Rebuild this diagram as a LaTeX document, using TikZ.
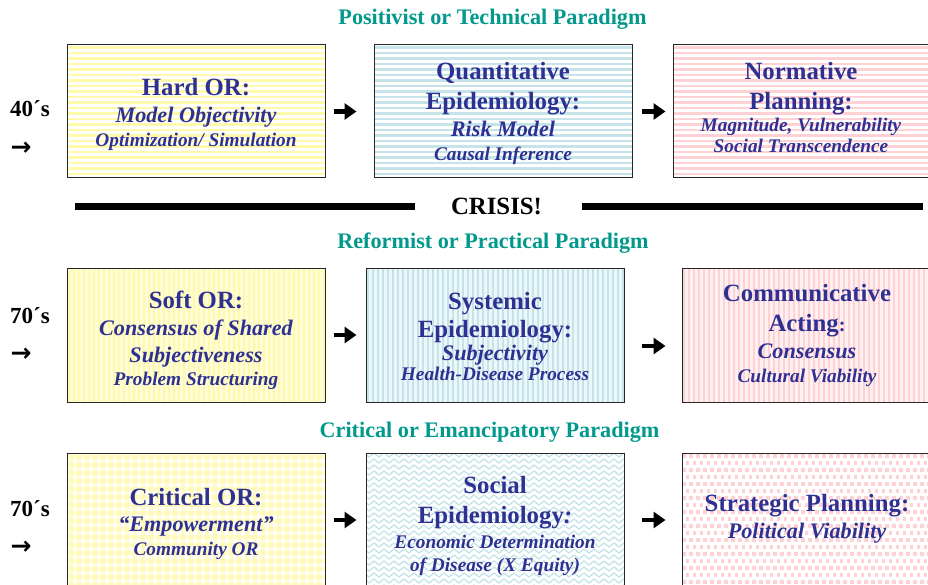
\documentclass[tikz,border=0pt]{standalone}
\usepackage{fontspec}
\setmainfont{Liberation Serif}
\newfontfamily\arrowfont{DejaVu Sans}
\usetikzlibrary{arrows.meta}
\definecolor{tealt}{RGB}{0,153,140}
\definecolor{bluet}{RGB}{46,49,146}
\definecolor{yelS}{RGB}{255,249,172}
\definecolor{yelB}{RGB}{255,253,215}
\definecolor{bluS}{RGB}{196,228,233}
\definecolor{bluB}{RGB}{236,247,249}
\definecolor{pnkS}{RGB}{255,208,212}
\definecolor{pnkB}{RGB}{255,240,241}
\tikzset{
  box/.style={rectangle, draw=black!85, line width=1pt, fill=white,
    minimum width=258pt, minimum height=134pt, inner sep=0pt},
  hpat/.style={path picture={
    \foreach \k in {0,...,25}{
      \pgfmathsetmacro\ya{-\k*5.5-1.5}\pgfmathsetmacro\yb{\ya-2.2}
      \fill[#1] ([yshift=\ya pt]path picture bounding box.north west) rectangle ([yshift=\yb pt]path picture bounding box.north east);}}},
  vpat/.style={path picture={
    \foreach \k in {0,...,55}{
      \pgfmathsetmacro\xa{\k*5+1}\pgfmathsetmacro\xb{\xa+2.4}
      \fill[#1] ([xshift=\xa pt]path picture bounding box.north west) rectangle ([xshift=\xb pt]path picture bounding box.south west);}}},
  gpat/.style={path picture={
    \foreach \k in {0,...,34}{
      \pgfmathsetmacro\xa{\k*8+2}\pgfmathsetmacro\xb{\xa+4}
      \fill[#1,opacity=.6] ([xshift=\xa pt]path picture bounding box.north west) rectangle ([xshift=\xb pt]path picture bounding box.south west);}
    \foreach \k in {0,...,18}{
      \pgfmathsetmacro\ya{-\k*8-2}\pgfmathsetmacro\yb{\ya-4}
      \fill[#1,opacity=.6] ([yshift=\ya pt]path picture bounding box.north west) rectangle ([yshift=\yb pt]path picture bounding box.north east);}}},
  zpat/.style={path picture={
    \foreach \k in {0,...,24}{
      \pgfmathsetmacro\ya{-\k*6}
      \draw[#1,line width=1.3pt] ([yshift=\ya pt,xshift=-2pt]path picture bounding box.north west)
        \foreach \i in {1,...,27}{ -- ++(5pt,-4pt) -- ++(5pt,4pt)};}}},
  dpat/.style={path picture={
    \foreach \j in {0,...,19}{\foreach \i in {0,...,37}{
      \pgfmathsetmacro\xa{\i*7+mod(\j,2)*3.5}\pgfmathsetmacro\ya{-\j*7-1}
      \fill[#1] ([xshift=\xa pt,yshift=\ya pt]path picture bounding box.north west) rectangle ++(3.6pt,-3.6pt);}}}},
  hd/.style={anchor=base, inner sep=0pt, text=bluet, font=\fontsize{24.8}{26}\selectfont\bfseries},
  it/.style={anchor=base, inner sep=0pt, text=bluet, font=\fontsize{22.2}{24}\selectfont\bfseries\itshape},
  sm/.style={anchor=base, inner sep=0pt, text=bluet, font=\fontsize{19.3}{21}\selectfont\bfseries\itshape},
  ttl/.style={anchor=base, inner sep=0pt, text=tealt, font=\fontsize{22.2}{24}\selectfont\bfseries},
  dec/.style={anchor=base west, inner sep=0pt, font=\fontsize{23}{25}\selectfont\bfseries},
  sarr/.style={anchor=center, inner sep=0pt, font=\arrowfont\fontsize{25}{27}\selectfont\bfseries},
  conn/.style={line width=4.5pt, -{Triangle[length=12pt,width=16pt]}},
  crisisline/.style={line width=6.7pt}
}
\begin{document}
\begin{tikzpicture}[x=1pt,y=-1pt]
\clip (0,0) rectangle (928,585);
\fill[white] (0,0) rectangle (928,585);

% titles
\node[ttl] (ti1) at (492.5,25) {Positivist or Technical Paradigm};
\node[ttl] (ti2) at (493,248) {Reformist or Practical Paradigm};
\node[ttl] (ti3) at (489.5,437) {Critical or Emancipatory Paradigm};

% side labels
\node[dec] (d1) at (10,117) {40´s};
\node[sarr] (d1a) at (21,149) {→};
\node[dec] (d2) at (10,323) {70´s};
\node[sarr] (d2a) at (21,355) {→};
\node[dec] (d3) at (10,516) {70´s};
\node[sarr] (d3a) at (21,548) {→};

% row 1
\node[box, minimum height=133pt, hpat=yelS] (b11) at (196,111.5) {};
\node[box, minimum height=133pt, hpat=bluS] (b12) at (503,111.5) {};
\node[box, minimum height=133pt, hpat=pnkS] (b13) at (802,111.5) {};
\node[hd] (t11a) at (196,95.7) {Hard OR:};
\node[it] (t11b) at (196,122.7) {Model Objectivity};
\node[sm] (t11c) at (196,146.7) {Optimization/ Simulation};
\node[hd] (t12a) at (503,80) {Quantitative};
\node[hd] (t12b) at (503,110) {Epidemiology:};
\node[it] (t12c) at (503,137) {Risk Model};
\node[sm] (t12d) at (503,161) {Causal Inference};
\node[hd] (t13a) at (801,80) {Normative};
\node[hd] (t13b) at (801,110) {Planning:};
\node[sm] (t13c) at (801,131.5) {Magnitude, Vulnerability};
\node[sm] (t13d) at (801,152.7) {Social Transcendence};
\draw[conn, shorten <=8pt, shorten >=17pt] (b11) -- (b12);
\draw[conn, shorten <=9pt, shorten >=7pt] (b12) -- (b13);

% crisis
\coordinate (cl1) at (75,206.7);
\coordinate (cl2) at (415,206.7);
\coordinate (cr1) at (582,206.7);
\coordinate (cr2) at (923,206.7);
\node[anchor=base, inner sep=0pt, font=\fontsize{24.8}{26}\selectfont\bfseries] (crisis) at (496.5,215) {CRISIS!};
\draw[crisisline] (cl1) -- (cl2);
\draw[crisisline] (cr1) -- (cr2);

% row 2
\node[box, fill=yelB, vpat=yelS] (b21) at (196,335) {};
\node[box, fill=bluB, vpat=bluS] (b22) at (495,335) {};
\node[box, fill=pnkB, vpat=pnkS] (b23) at (811,335) {};
\node[hd] (t21a) at (196,308.3) {Soft OR:};
\node[it] (t21b) at (196,335.7) {Consensus of Shared};
\node[it] (t21c) at (196,362.3) {Subjectiveness};
\node[sm] (t21d) at (196,385.7) {Problem Structuring};
\node[hd] (t22a) at (495,309) {Systemic};
\node[hd] (t22b) at (495,337.7) {Epidemiology:};
\node[it] (t22c) at (495,360) {Subjectivity};
\node[sm] (t22d) at (495,380.7) {Health-Disease Process};
\node[hd] (t23a) at (807,301.7) {Communicative};
\node[hd] (t23b) at (807,331.7) {Acting\fontsize{20}{22}\selectfont:};
\node[it] (t23c) at (807,358.3) {Consensus};
\node[sm] (t23d) at (807,382.7) {Cultural Viability};
\draw[conn, shorten <=8pt, shorten >=9pt] (b21) -- (b22);
\draw[conn, shorten <=17pt, shorten >=16pt] ([yshift=-11pt]b22.east) -- ([yshift=-11pt]b23.west);

% row 3
\node[box, gpat=yelS] (b31) at (196,520) {};
\node[box, fill=white, zpat=bluS] (b32) at (495,520) {};
\node[box, fill=white, dpat=pnkS] (b33) at (811,520) {};
\node[hd] (t31a) at (196,505) {Critical OR:};
\node[it] (t31b) at (196,531.7) {“Empowerment”};
\node[sm] (t31c) at (196,555.7) {Community OR};
\node[hd] (t32a) at (495,493.3) {Social};
\node[hd] (t32b) at (495,523.3) {Epidemiology\textit{:}};
\node[sm] (t32c) at (495,548.3) {Economic Determination};
\node[sm] (t32d) at (495,571.7) {of Disease (X Equity)};
\node[hd] (t33a) at (807,511.7) {Strategic Planning:};
\node[it] (t33b) at (807,538.3) {Political Viability};
\draw[conn, shorten <=8pt, shorten >=9pt] (b31) -- (b32);
\draw[conn, shorten <=17pt, shorten >=16pt] (b32) -- (b33);
\end{tikzpicture}
\end{document}
